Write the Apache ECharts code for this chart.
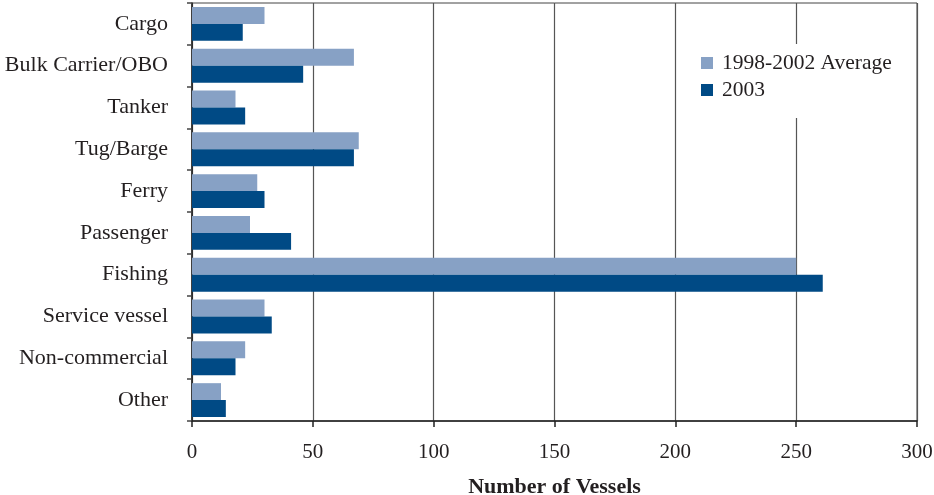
<!DOCTYPE html>
<html>
<head>
<meta charset="utf-8">
<script src="https://cdn.jsdelivr.net/npm/echarts@6/dist/echarts.min.js"></script>
<style>
  html, body { margin: 0; padding: 0; background: #fff; }
  #chart { width: 934px; height: 495px; }
</style>
</head>
<body>
<div id="chart"></div>
<script>
// Vessel categories, listed top to bottom
const categories = ['Cargo', 'Bulk Carrier/OBO', 'Tanker', 'Tug/Barge', 'Ferry',
  'Passenger', 'Fishing', 'Service vessel', 'Non-commercial', 'Other'];
// Number of vessels per category
const average9802 = [30, 67, 18, 69, 27, 24, 250, 30, 22, 12];
const year2003 = [21, 46, 22, 67, 30, 41, 261, 33, 18, 14];
const seriesNames = ['1998-2002 Average', '2003'];
const xTicks = [0, 50, 100, 150, 200, 250, 300];

const FONT = '"Liberation Serif", "DejaVu Serif", serif';
const INK = '#231f20';

const chart = echarts.init(document.getElementById('chart'), null, { renderer: 'canvas' });
chart.setOption({
  animation: false,
  textStyle: { fontFamily: FONT, color: INK },
  grid: {
    left: 192, right: 17, top: 3, bottom: 74,
    outerBoundsMode: 'none',
    containLabel: false,
    show: true, borderColor: '#444', borderWidth: 1, backgroundColor: 'transparent'
  },
  legend: {
    orient: 'vertical',
    left: 691, top: 44,
    padding: [8, 10, 17, 10],
    itemGap: 5,
    itemWidth: 12, itemHeight: 12,
    backgroundColor: '#fff',
    icon: 'rect',
    textStyle: { fontFamily: FONT, fontSize: 21.5, color: INK, padding: [0, 0, 0, 4] },
    data: seriesNames
  },
  xAxis: {
    type: 'value',
    min: xTicks[0], max: xTicks[xTicks.length - 1], interval: 50,
    axisLine: { show: true, lineStyle: { color: '#222', width: 1.5 } },
    axisTick: { show: true, inside: false, length: 6, lineStyle: { color: '#222', width: 1.5 } },
    axisLabel: { fontFamily: FONT, fontSize: 21, color: INK, margin: 21 },
    splitLine: { show: true, lineStyle: { color: '#555', width: 1.2 } },
    name: 'Number of Vessels',
    nameLocation: 'middle',
    nameGap: 55,
    nameTextStyle: { fontFamily: FONT, fontSize: 22, fontWeight: 'bold', color: INK }
  },
  yAxis: {
    type: 'category',
    inverse: true,
    data: categories,
    axisLine: { show: true, lineStyle: { color: '#222', width: 1.5 } },
    axisTick: { show: true, inside: false, length: 5, lineStyle: { color: '#444', width: 1.5 } },
    axisLabel: { fontFamily: FONT, fontSize: 22, color: INK, margin: 24 },
    splitLine: { show: false }
  },
  series: [
    {
      name: seriesNames[0], type: 'bar', data: average9802,
      itemStyle: { color: '#87a1c5' },
      barGap: '0%', barCategoryGap: '19%'
    },
    {
      name: seriesNames[1], type: 'bar', data: year2003,
      itemStyle: { color: '#004a85' },
      barGap: '0%', barCategoryGap: '19%'
    }
  ]
});
</script>
</body>
</html>
